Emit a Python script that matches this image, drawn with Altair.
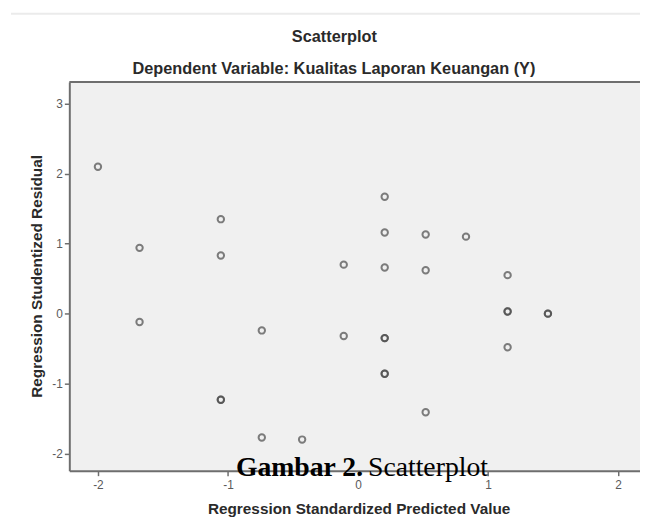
import altair as alt
import pandas as pd

pred = [-2.00, -1.68, -1.68, -1.055, -1.055, -1.055, -1.055, -0.74, -0.74, -0.43,
        -0.11, -0.11, 0.205, 0.205, 0.205, 0.205, 0.205, 0.205, 0.205,
        0.52, 0.52, 0.52, 0.83, 1.15, 1.15, 1.15, 1.15, 1.46, 1.46]
resid = [2.10, 0.94, -0.12, 1.35, 0.83, -1.23, -1.23, -0.24, -1.77, -1.80,
         0.70, -0.32, 1.67, 1.16, 0.66, -0.35, -0.35, -0.86, -0.86,
         1.13, 0.62, -1.41, 1.10, 0.55, 0.03, 0.03, -0.48, 0.00, 0.00]

x_ticks = [-2, -1, 0, 1, 2]
y_ticks = [-2, -1, 0, 1, 2, 3]

title_text = "Scatterplot"
subtitle_text = "Dependent Variable: Kualitas Laporan Keuangan (Y)"
x_title = "Regression Standardized Predicted Value"
y_title = "Regression Studentized Residual"
caption_bold = "Gambar 2."
caption_regular = "Scatterplot"

df = pd.DataFrame({"pred": pred, "resid": resid})

W, H = 577, 393
AX = "#6e6e6e"
LBL = "(datum.value < 0 ? '-' : '') + abs(datum.value)"

points = alt.Chart(df).mark_point(
    shape="circle", filled=False, size=42, strokeWidth=2,
    color="#4a4a4a", opacity=0.7
).encode(
    x=alt.X("pred:Q",
            scale=alt.Scale(domain=[-2.22, 2.168], nice=False, zero=False),
            axis=alt.Axis(values=x_ticks, labelExpr=LBL, title=x_title,
                          grid=False, domainColor=AX, domainWidth=2,
                          tickColor=AX, tickWidth=1.5, tickSize=5,
                          labelFont="Liberation Sans", labelFontSize=12,
                          labelColor="#5a5a5a", labelPadding=4,
                          titleFont="Liberation Sans", titleFontSize=15.5,
                          titleFontWeight="bold", titleColor="#2a2a2a",
                          titleX=292.5, titleY=43, titleAlign="center",
                          titleBaseline="alphabetic")),
    y=alt.Y("resid:Q",
            scale=alt.Scale(domain=[-2.245, 3.31], nice=False, zero=False),
            axis=alt.Axis(values=y_ticks, labelExpr=LBL, title=y_title,
                          grid=False, domainColor=AX, domainWidth=2,
                          tickColor=AX, tickWidth=1.5, tickSize=5,
                          labelFont="Liberation Sans", labelFontSize=12,
                          labelColor="#5a5a5a", labelPadding=2,
                          titleFont="Liberation Sans", titleFontSize=15.5,
                          titleFontWeight="bold", titleColor="#2a2a2a",
                          titleAngle=270, titleX=-28, titleY=196,
                          titleAlign="center", titleBaseline="alphabetic")),
)

top_border = alt.Chart(pd.DataFrame({"a": [0]})).mark_rule(
    color=AX, strokeWidth=2
).encode(x=alt.value(0), x2=alt.value(W), y=alt.value(0))

page_line = alt.Chart(pd.DataFrame({"a": [0]})).mark_rule(
    color="#ebebeb", strokeWidth=2
).encode(x=alt.value(-59), x2=alt.value(W), y=alt.value(-69))

def label(text, x, y, **kw):
    return alt.Chart(pd.DataFrame({"t": [text]})).mark_text(**kw).encode(
        x=alt.value(x), y=alt.value(y), text="t:N")

t1 = label(title_text, 268, -40, font="Liberation Sans", fontSize=16.5,
           fontWeight="bold", color="#2a2a2a", align="center", baseline="alphabetic")
t2 = label(subtitle_text, 267.5, -8, font="Liberation Sans", fontSize=16.5,
           fontWeight="bold", color="#2a2a2a", align="center", baseline="alphabetic")
c1 = label(caption_bold, 297, 398, font="Liberation Serif", fontSize=28,
           fontWeight="bold", color="#000000", align="right", baseline="alphabetic")
c2 = label(caption_regular, 302, 398, font="Liberation Serif", fontSize=28,
           color="#000000", align="left", baseline="alphabetic")

chart = alt.layer(page_line, top_border, points, t1, t2, c1, c2).properties(
    width=W, height=H,
    autosize=alt.AutoSizeParams(type="none"),
    padding={"left": 62, "top": 72, "right": 0, "bottom": 48},
    background="white",
).configure_view(fill="#f0f0f0", stroke="transparent")

chart.save("out.html", embed_options={"renderer": "svg", "actions": False})
